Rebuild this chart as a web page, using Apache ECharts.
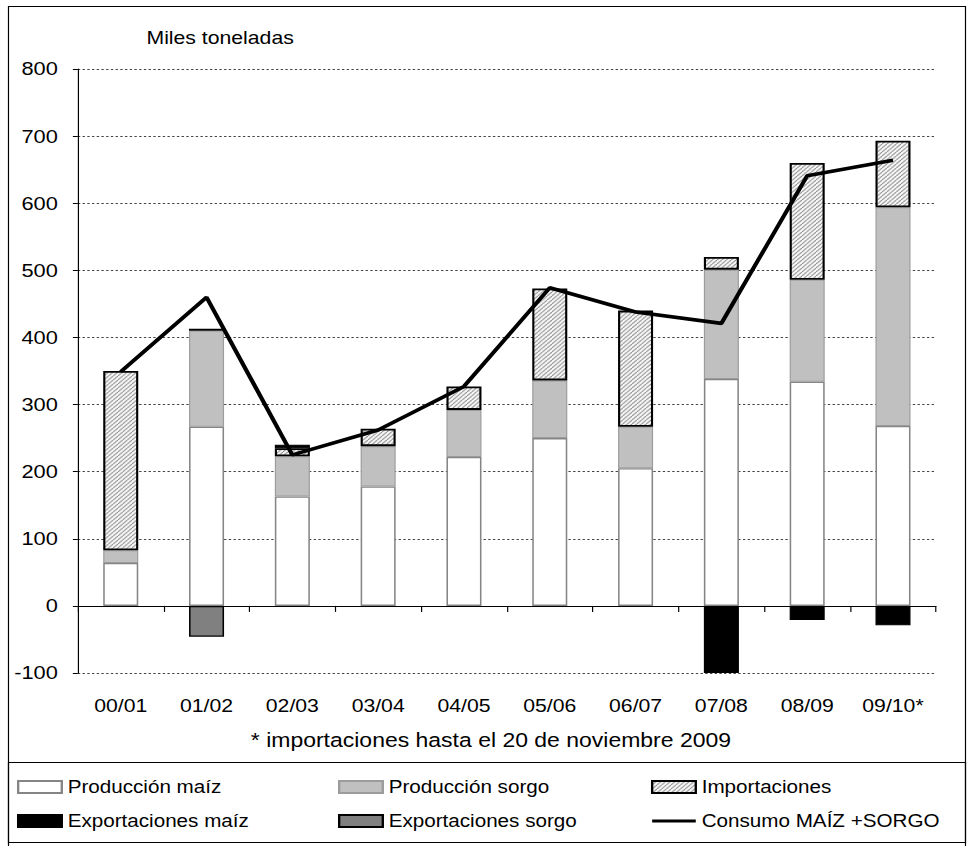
<!DOCTYPE html>
<html>
<head>
<meta charset="utf-8">
<script src="https://cdn.jsdelivr.net/npm/echarts@6/dist/echarts.min.js"></script>
<style>
  html, body { margin: 0; padding: 0; background: #fff; overflow: hidden; }
  /* The chart is laid out on a narrower panel and widened to fill the page,
     which gives the broad lettering of the printed figure. */
  #chart {
    width: 820px;
    height: 846px;
    transform: scaleX(1.1793);
    transform-origin: 0 0;
  }
</style>
</head>
<body>
<div id="chart"></div>
<script>
// Campañas agrícolas
const categories = ['00/01', '01/02', '02/03', '03/04', '04/05', '05/06', '06/07', '07/08', '08/09', '09/10*'];

// Miles de toneladas
const produccionMaiz = [64, 267, 163, 178, 222, 250, 205, 338, 334, 268];
const produccionSorgo = [19, 143, 60, 60, 70, 86, 62, 163, 152, 326];
const importaciones = [267, 3, 12, 26, 35, 137, 173, 19, 174, 99];
const exportacionesMaiz = [null, null, 5, null, null, null, null, -100, -21, -29];
const exportacionesSorgo = [null, -46, null, null, null, null, null, null, null, null];
const consumo = [349, 460, 225, 262, 327, 474, 438, 421, 641, 664];

const yTicks = { min: -100, max: 800, step: 100 };

const FONT = '"Liberation Sans", Arial, sans-serif';

// Diagonal hatch fill for imports
function hatchPattern() {
  const c = document.createElement('canvas');
  c.width = 4; c.height = 4;
  const ctx = c.getContext('2d');
  ctx.fillStyle = '#ffffff';
  ctx.fillRect(0, 0, 4, 4);
  ctx.strokeStyle = '#8a8a8a';
  ctx.lineWidth = 1.1;
  for (const k of [-4, 0, 4]) {
    ctx.beginPath();
    ctx.moveTo(k, 4);
    ctx.lineTo(k + 4, 0);
    ctx.stroke();
  }
  return { image: c, repeat: 'repeat', imageWidth: 4, imageHeight: 4 };
}

const chart = echarts.init(document.getElementById('chart'), null, { renderer: 'svg' });

const barBase = { type: 'bar', stack: 'total', barWidth: 29.7, xAxisIndex: 0 };

const legendCommon = {
  orient: 'vertical',
  top: 778,
  icon: 'rect',
  itemWidth: 37,
  itemHeight: 12,
  itemGap: 16,
  padding: 0,
  selectedMode: false,
  textStyle: { fontFamily: FONT, fontSize: 17.5, color: '#000' }
};

// thin horizontal bar centred in the icon box, for the line series
const lineIcon = 'path://M0,0 M0,12 M0,4.5 L37,4.5 L37,7.5 L0,7.5 Z';

chart.setOption({
  animation: false,
  backgroundColor: '#fff',
  textStyle: { fontFamily: FONT },
  grid: { left: 66, top: 69, width: 727.6, height: 604, containLabel: false },
  xAxis: [
    {
      type: 'category',
      data: categories,
      axisLine: { onZero: true, lineStyle: { color: '#000', width: 1 } },
      axisTick: { show: true, length: 6, lineStyle: { color: '#000' } },
      axisLabel: { show: false },
      splitLine: { show: false }
    },
    {
      type: 'category',
      data: categories,
      position: 'bottom',
      axisLine: { show: false, onZero: false },
      axisTick: { show: false },
      axisLabel: { fontFamily: FONT, fontSize: 18, color: '#000', margin: 24 },
      splitLine: { show: false }
    }
  ],
  yAxis: {
    type: 'value',
    min: yTicks.min,
    max: yTicks.max,
    interval: yTicks.step,
    axisLine: { show: true, lineStyle: { color: '#000', width: 1 } },
    axisTick: { show: true, length: 4.2, lineStyle: { color: '#000' } },
    axisLabel: { fontFamily: FONT, fontSize: 18.5, color: '#000', margin: 17 },
    splitLine: { show: true, lineStyle: { type: [2, 2], color: '#444', width: 1 } }
  },
  legend: [
    Object.assign({}, legendCommon, { left: 14.4, data: ['Producción maíz', 'Exportaciones maíz'] }),
    Object.assign({}, legendCommon, { left: 286.6, data: ['Producción sorgo', 'Exportaciones sorgo'] }),
    Object.assign({}, legendCommon, {
      left: 552,
      data: ['Importaciones', { name: 'Consumo MAÍZ +SORGO', icon: lineIcon }]
    })
  ],
  graphic: [
    { type: 'rect', shape: { x: 7.2, y: 6.5, width: 811.5, height: 850 }, style: { fill: null, stroke: '#000', lineWidth: 1 }, silent: true },
    { type: 'rect', shape: { x: 7.2, y: 762.5, width: 811.5, height: 80 }, style: { fill: null, stroke: '#000', lineWidth: 1 }, silent: true },
    { type: 'text', x: 124.2, y: 38, style: { text: 'Miles toneladas', font: '18px ' + FONT, fill: '#000', textVerticalAlign: 'middle' } },
    { type: 'text', x: 416.3, y: 741, style: { text: '* importaciones hasta el 20 de noviembre 2009', font: '19.5px ' + FONT, fill: '#000', textAlign: 'center', textVerticalAlign: 'middle' } }
  ],
  series: [
    Object.assign({}, barBase, {
      name: 'Producción maíz',
      data: produccionMaiz,
      itemStyle: { color: '#ffffff', borderColor: '#858585', borderWidth: 1.3 }
    }),
    Object.assign({}, barBase, {
      name: 'Producción sorgo',
      data: produccionSorgo,
      itemStyle: { color: '#c0c0c0', borderColor: '#9c9c9c', borderWidth: 1 }
    }),
    Object.assign({}, barBase, {
      name: 'Importaciones',
      data: importaciones,
      itemStyle: { color: hatchPattern(), borderColor: '#000', borderWidth: 1.8 }
    }),
    Object.assign({}, barBase, {
      name: 'Exportaciones maíz',
      data: exportacionesMaiz,
      itemStyle: { color: '#000', borderColor: '#000', borderWidth: 1 }
    }),
    Object.assign({}, barBase, {
      name: 'Exportaciones sorgo',
      data: exportacionesSorgo,
      itemStyle: { color: '#808080', borderColor: '#000', borderWidth: 1.3 }
    }),
    {
      name: 'Consumo MAÍZ +SORGO',
      type: 'line',
      data: consumo,
      symbol: 'none',
      z: 5,
      lineStyle: { color: '#000', width: 3.6 },
      itemStyle: { color: '#000' }
    }
  ]
});
</script>
</body>
</html>
